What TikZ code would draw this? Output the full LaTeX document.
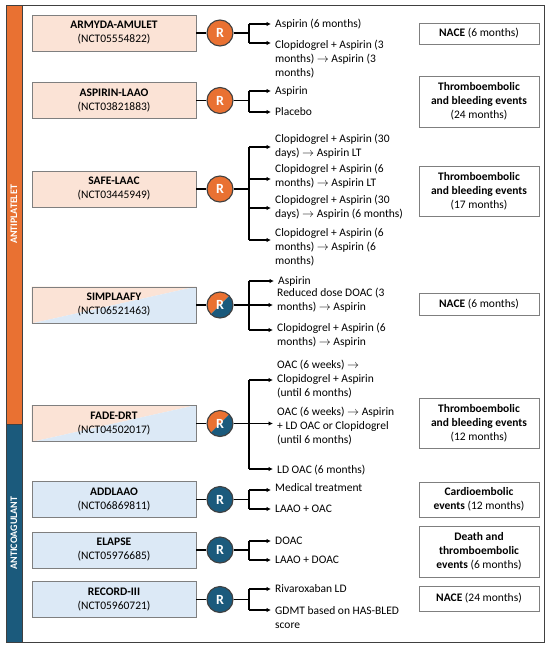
\documentclass[tikz,border=0pt]{standalone}
\usepackage{fontspec}
\setmainfont{Carlito}
\usetikzlibrary{arrows.meta,backgrounds}
\definecolor{orn}{HTML}{E97132}
\definecolor{blu}{HTML}{1B5A7C}
\definecolor{lorn}{HTML}{FBE3D6}
\definecolor{lblu}{HTML}{DCE9F6}
\definecolor{brd}{HTML}{7F7F7F}
\definecolor{frm}{HTML}{404040}
\newcommand\rarr{$\rightarrow$}
\begin{document}
\begin{tikzpicture}[x=1pt,y=-1pt,
  trial/.style={draw=brd, line width=0.9pt, minimum width=164pt, minimum height=36pt, inner sep=0pt, align=center, font=\fontsize{11.5}{14}\selectfont},
  rc/.style={circle, draw=frm, line width=1.1pt, minimum size=26pt, inner sep=0pt, text=white, font=\fontsize{14}{14}\selectfont\bfseries},
  arm/.style={anchor=west, inner sep=0pt, align=left, font=\fontsize{11.5}{14}\selectfont},
  outc/.style={draw=brd, line width=0.9pt, minimum width=120pt, inner sep=0pt, align=center, font=\fontsize{11.5}{14}\selectfont},
  ln/.style={line width=1.1pt, black},
  arr/.style={line width=1.1pt, black, -{Latex[length=4.5pt,width=4.5pt]}, shorten >=4pt},
  side/.style={rotate=90, text=white, font=\fontsize{10}{11}\selectfont\bfseries, inner sep=0pt}
]
\useasboundingbox (0,0) rectangle (550,648);
\begin{scope}[on background layer]
\fill[white] (0,0) rectangle (550,648);
\end{scope}
% frame and side bar
\node[draw=frm, line width=1pt, minimum width=538pt, minimum height=637pt, inner sep=0pt] (frame) at (275,323.5) {};
\node[draw=frm, fill=orn, line width=0.8pt, minimum width=16pt, minimum height=419pt, inner sep=0pt] (barO) at (14,214.5) {};
\node[draw=frm, fill=blu, line width=0.8pt, minimum width=16pt, minimum height=218pt, inner sep=0pt] (barB) at (14,533) {};
\node[side] (lO) at (barO.center) {ANTIPLATELET};
\node[side] (lB) at (barB.center) {ANTICOAGULANT};

% ---------- ARMYDA-AMULET
\node[trial, fill=lorn] (A) at (114,33) {\textbf{ARMYDA-AMULET}\\(NCT05554822)};
\node[rc, fill=orn] (RA) at (220,33) {R};
\coordinate (JA) at (249,33);
\coordinate (A1) at (249,24); \coordinate (A2) at (249,43);
\node[arm] (TA1) at (275,24) {Aspirin (6 months)};
\node[arm] (TA2) at (275,59) {Clopidogrel + Aspirin (3\\months) \rarr{} Aspirin (3\\months)};
\draw[ln] (A) -- (RA); \draw[ln] (RA) -- (JA); \draw[ln] (A1) -- (A2);
\draw[arr] (A1) -- (A1 -| TA1.west); \draw[arr] (A2) -- (A2 -| TA2.west);
\node[outc, minimum height=21pt] (OA) at (479,33.5) {\textbf{NACE} (6 months)};

% ---------- ASPIRIN-LAAO
\node[trial, fill=lorn] (B) at (114,100.5) {\textbf{ASPIRIN-LAAO}\\(NCT03821883)};
\node[rc, fill=orn] (RB) at (220,100.5) {R};
\coordinate (JB) at (249,100.5);
\coordinate (B1) at (249,91); \coordinate (B2) at (249,112);
\node[arm] (TB1) at (275,91) {Aspirin};
\node[arm] (TB2) at (275,112) {Placebo};
\draw[ln] (B) -- (RB); \draw[ln] (RB) -- (JB); \draw[ln] (B1) -- (B2);
\draw[arr] (B1) -- (B1 -| TB1.west); \draw[arr] (B2) -- (B2 -| TB2.west);
\node[outc, minimum height=51pt] (OB) at (479,101.5) {\textbf{Thromboembolic}\\\textbf{and bleeding events}\\(24 months)};

% ---------- SAFE-LAAC
\node[trial, fill=lorn] (C) at (114,189) {\textbf{SAFE-LAAC}\\(NCT03445949)};
\node[rc, fill=orn] (RC) at (220,189) {R};
\coordinate (JC) at (249,189);
\coordinate (C1) at (249,147); \coordinate (C2) at (249,179);
\coordinate (C3) at (249,208); \coordinate (C4) at (249,240);
\node[arm] (TC1) at (275,146) {Clopidogrel + Aspirin (30\\days) \rarr{} Aspirin LT};
\node[arm] (TC2) at (275,176) {Clopidogrel + Aspirin (6\\months) \rarr{} Aspirin LT};
\node[arm] (TC3) at (275,207) {Clopidogrel + Aspirin (30\\days) \rarr{} Aspirin (6 months)};
\node[arm] (TC4) at (275,247) {Clopidogrel + Aspirin (6\\months) \rarr{} Aspirin (6\\months)};
\draw[ln] (C) -- (RC); \draw[ln] (RC) -- (JC); \draw[ln] (C1) -- (C4);
\draw[arr] (C1) -- (C1 -| TC1.west); \draw[arr] (C2) -- (C2 -| TC2.west);
\draw[arr] (C3) -- (C3 -| TC3.west); \draw[arr] (C4) -- (C4 -| TC4.west);
\node[outc, minimum height=50pt] (OC) at (479,191) {\textbf{Thromboembolic}\\\textbf{and bleeding events}\\(17 months)};

% ---------- SIMPLAAFY
\node[trial] (D) at (114,305) {\textbf{SIMPLAAFY}\\(NCT06521463)};
\node[rc] (RD) at (220,305) {R};
\begin{scope}[on background layer]
  \fill[lorn] (D.north west) -- (D.north east) -- (D.south west) -- cycle;
  \fill[lblu] (D.north east) -- (D.south east) -- (D.south west) -- cycle;
  \begin{scope}
    \clip (RD.center) circle (13pt);
    \fill[orn] ([shift={(-14,-14)}]RD.center) -- ([shift={(14,-14)}]RD.center) -- ([shift={(-14,14)}]RD.center) -- cycle;
    \fill[blu] ([shift={(14,-14)}]RD.center) -- ([shift={(14,14)}]RD.center) -- ([shift={(-14,14)}]RD.center) -- cycle;
  \end{scope}
\end{scope}
\coordinate (JD) at (249,305);
\coordinate (D1) at (249,281); \coordinate (D2) at (249,305); \coordinate (D3) at (249,330);
\node[arm] (TD1) at (278,281) {Aspirin};
\node[arm] (TD2) at (277,300) {Reduced dose DOAC (3\\months) \rarr{} Aspirin};
\node[arm] (TD3) at (277,335) {Clopidogrel + Aspirin (6\\months) \rarr{} Aspirin};
\draw[ln] (D) -- (RD); \draw[ln] (RD) -- (JD); \draw[ln] (D1) -- (D3);
\draw[arr] (D1) -- (D1 -| TD1.west); \draw[arr] (D2) -- (D2 -| TD2.west); \draw[arr] (D3) -- (D3 -| TD3.west);
\node[outc, minimum height=22pt] (OD) at (479,304) {\textbf{NACE} (6 months)};

% ---------- FADE-DRT
\node[trial] (E) at (114,423.5) {\textbf{FADE-DRT}\\(NCT04502017)};
\node[rc] (RE) at (220,423.5) {R};
\begin{scope}[on background layer]
  \fill[lorn] (E.north west) -- (E.north east) -- (E.south west) -- cycle;
  \fill[lblu] (E.north east) -- (E.south east) -- (E.south west) -- cycle;
  \begin{scope}
    \clip (RE.center) circle (13pt);
    \fill[orn] ([shift={(-14,-14)}]RE.center) -- ([shift={(14,-14)}]RE.center) -- ([shift={(-14,14)}]RE.center) -- cycle;
    \fill[blu] ([shift={(14,-14)}]RE.center) -- ([shift={(14,14)}]RE.center) -- ([shift={(-14,14)}]RE.center) -- cycle;
  \end{scope}
\end{scope}
\coordinate (JE) at (249,423.5);
\coordinate (E1) at (249,380); \coordinate (E2) at (249,423.5); \coordinate (E3) at (249,469);
\node[arm] (TE1) at (277,379) {OAC (6 weeks) \rarr{}\\Clopidogrel + Aspirin\\(until 6 months)};
\node[arm] (TE2) at (277,426) {OAC (6 weeks) \rarr{} Aspirin\\+ LD OAC or Clopidogrel\\(until 6 months)};
\node[arm] (TE3) at (277,470) {LD OAC (6 months)};
\draw[ln] (E) -- (RE); \draw[ln] (RE) -- (JE); \draw[ln] (E1) -- (E3);
\draw[arr] (E1) -- (E1 -| TE1.west); \draw[arr] (E2) -- (E2 -| TE2.west); \draw[arr] (E3) -- (E3 -| TE3.west);
\node[outc, minimum height=50pt] (OE) at (479,423) {\textbf{Thromboembolic}\\\textbf{and bleeding events}\\(12 months)};

% ---------- ADDLAAO
\node[trial, fill=lblu] (F) at (114,499.5) {\textbf{ADDLAAO}\\(NCT06869811)};
\node[rc, fill=blu] (RF) at (220,499.5) {R};
\coordinate (JF) at (249,499.5);
\coordinate (F1) at (249,490); \coordinate (F2) at (249,509);
\node[arm] (TF1) at (275,488) {Medical treatment};
\node[arm] (TF2) at (275,509) {LAAO + OAC};
\draw[ln] (F) -- (RF); \draw[ln] (RF) -- (JF); \draw[ln] (F1) -- (F2);
\draw[arr] (F1) -- (F1 -| TF1.west); \draw[arr] (F2) -- (F2 -| TF2.west);
\node[outc, minimum height=35pt] (OF) at (479,499.5) {\textbf{Cardioembolic}\\\textbf{events} (12 months)};

% ---------- ELAPSE
\node[trial, fill=lblu] (G) at (114,550) {\textbf{ELAPSE}\\(NCT05976685)};
\node[rc, fill=blu] (RG) at (220,550) {R};
\coordinate (JG) at (249,550);
\coordinate (G1) at (249,541); \coordinate (G2) at (249,560);
\node[arm] (TG1) at (275,541) {DOAC};
\node[arm] (TG2) at (275,560) {LAAO + DOAC};
\draw[ln] (G) -- (RG); \draw[ln] (RG) -- (JG); \draw[ln] (G1) -- (G2);
\draw[arr] (G1) -- (G1 -| TG1.west); \draw[arr] (G2) -- (G2 -| TG2.west);
\node[outc, minimum height=51pt] (OG) at (479,551.5) {\textbf{Death and}\\\textbf{thromboembolic}\\\textbf{events} (6 months)};

% ---------- RECORD-III
\node[trial, fill=lblu] (H) at (114,599.5) {\textbf{RECORD-III}\\(NCT05960721)};
\node[rc, fill=blu] (RH) at (220,599.5) {R};
\coordinate (JH) at (249,599.5);
\coordinate (H1) at (249,589); \coordinate (H2) at (249,610);
\node[arm] (TH1) at (275,589) {Rivaroxaban LD};
\node[arm] (TH2) at (275,618) {GDMT based on HAS-BLED\\score};
\draw[ln] (H) -- (RH); \draw[ln] (RH) -- (JH); \draw[ln] (H1) -- (H2);
\draw[arr] (H1) -- (H1 -| TH1.west); \draw[arr] (H2) -- (H2 -| TH2.west);
\node[outc, minimum height=25pt] (OH) at (479,598.5) {\textbf{NACE} (24 months)};
\end{tikzpicture}
\end{document}
